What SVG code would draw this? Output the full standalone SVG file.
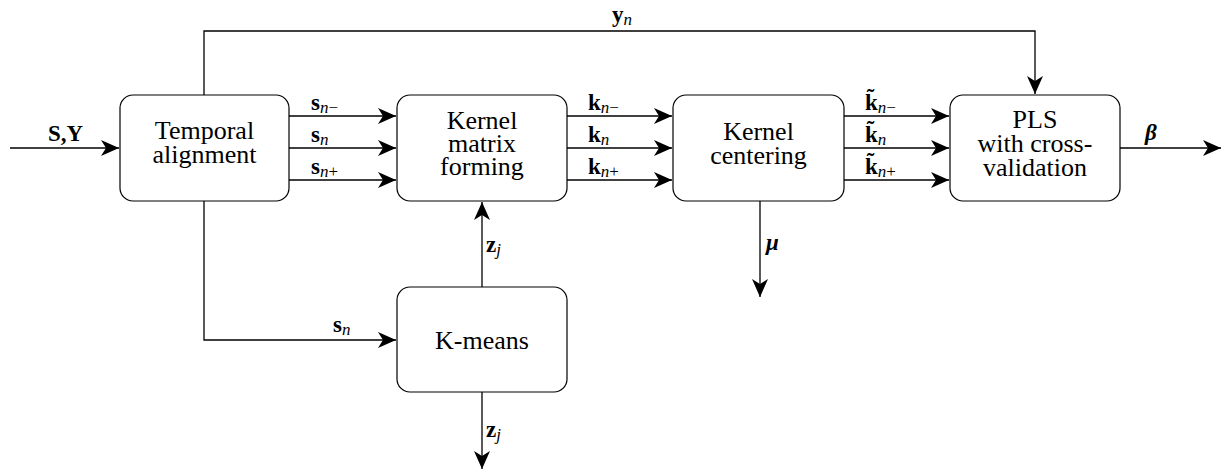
<svg xmlns="http://www.w3.org/2000/svg" width="1226" height="473" viewBox="0 0 1226 473">
<style>
.box{fill:#fff;stroke:#000;stroke-width:1.2}
.lbl{font-family:"Liberation Serif","Times New Roman","DejaVu Serif",serif;font-size:26px;fill:#000;text-anchor:middle}
.m{font-family:"Liberation Serif","Times New Roman","DejaVu Serif",serif;font-size:23px;font-weight:bold;fill:#000}
.sub{font-size:17px;font-style:italic;font-weight:normal}
.subu{font-size:17px;font-weight:normal;font-style:normal}
.c{fill:none;stroke:#000;stroke-width:1.3}
</style>
<defs>
<marker id="ah" markerUnits="userSpaceOnUse" markerWidth="20" markerHeight="16" viewBox="0 0 20 16" refX="18" refY="8" orient="auto">
<path d="M0,0 L18,8 L0,16 L5,8 Z" fill="#000"/>
</marker>
</defs>
<g id="connectors">
<path class="c" d="M10,148 H119" marker-end="url(#ah)"/>
<path class="c" d="M204,95 V31 H1035 V94" marker-end="url(#ah)"/>
<path class="c" d="M289,116 H396" marker-end="url(#ah)"/>
<path class="c" d="M289,148 H396" marker-end="url(#ah)"/>
<path class="c" d="M289,180 H396" marker-end="url(#ah)"/>
<path class="c" d="M567,116 H672" marker-end="url(#ah)"/>
<path class="c" d="M567,148 H672" marker-end="url(#ah)"/>
<path class="c" d="M567,180 H672" marker-end="url(#ah)"/>
<path class="c" d="M844,116 H949" marker-end="url(#ah)"/>
<path class="c" d="M844,148 H949" marker-end="url(#ah)"/>
<path class="c" d="M844,180 H949" marker-end="url(#ah)"/>
<path class="c" d="M1120,148 H1221" marker-end="url(#ah)"/>
<path class="c" d="M204,201 V340 H396" marker-end="url(#ah)"/>
<path class="c" d="M482,287 V202" marker-end="url(#ah)"/>
<path class="c" d="M482,392 V469" marker-end="url(#ah)"/>
<path class="c" d="M760,201 V297" marker-end="url(#ah)"/>
<text class="m" x="48" y="141">S,Y</text>
<text class="m" x="612" y="22">y<tspan class="sub" dy="3">n</tspan></text>
<text class="m" x="311" y="110">s<tspan class="sub" dy="3">n</tspan><tspan class="subu">−</tspan></text>
<text class="m" x="311" y="142">s<tspan class="sub" dy="3">n</tspan></text>
<text class="m" x="311" y="174">s<tspan class="sub" dy="3">n</tspan><tspan class="subu">+</tspan></text>
<text class="m" x="588" y="110">k<tspan class="sub" dy="3">n</tspan><tspan class="subu">−</tspan></text>
<text class="m" x="588" y="142">k<tspan class="sub" dy="3">n</tspan></text>
<text class="m" x="588" y="174">k<tspan class="sub" dy="3">n</tspan><tspan class="subu">+</tspan></text>
<text class="m" x="865" y="110">k̃<tspan class="sub" dy="3">n</tspan><tspan class="subu">−</tspan></text>
<text class="m" x="865" y="142">k̃<tspan class="sub" dy="3">n</tspan></text>
<text class="m" x="865" y="174">k̃<tspan class="sub" dy="3">n</tspan><tspan class="subu">+</tspan></text>
<text class="m" x="1145" y="140" style="font-style:italic">β</text>
<text class="m" x="766" y="250" style="font-style:italic">μ</text>
<text class="m" x="486" y="252">z<tspan class="sub" dy="3">j</tspan></text>
<text class="m" x="486" y="437">z<tspan class="sub" dy="3">j</tspan></text>
<text class="m" x="333" y="332">s<tspan class="sub" dy="3">n</tspan></text>
</g>
<g id="temporal">
<rect class="box" x="120" y="95" width="169" height="106" rx="13"/>
<text class="lbl" x="204.5" y="139">Temporal</text>
<text class="lbl" x="204.5" y="163">alignment</text>
</g>
<g id="kernel-matrix">
<rect class="box" x="397" y="95" width="170" height="106" rx="13"/>
<text class="lbl" x="482" y="129">Kernel</text>
<text class="lbl" x="482" y="152">matrix</text>
<text class="lbl" x="482" y="175">forming</text>
</g>
<g id="kernel-centering">
<rect class="box" x="673" y="95" width="171" height="106" rx="13"/>
<text class="lbl" x="758.5" y="140">Kernel</text>
<text class="lbl" x="758.5" y="164">centering</text>
</g>
<g id="pls">
<rect class="box" x="950" y="95" width="170" height="106" rx="13"/>
<text class="lbl" x="1035" y="128">PLS</text>
<text class="lbl" x="1035" y="152">with cross-</text>
<text class="lbl" x="1035" y="176">validation</text>
</g>
<g id="kmeans">
<rect class="box" x="397" y="287" width="170" height="105" rx="13"/>
<text class="lbl" x="482" y="349">K-means</text>
</g>
</svg>
